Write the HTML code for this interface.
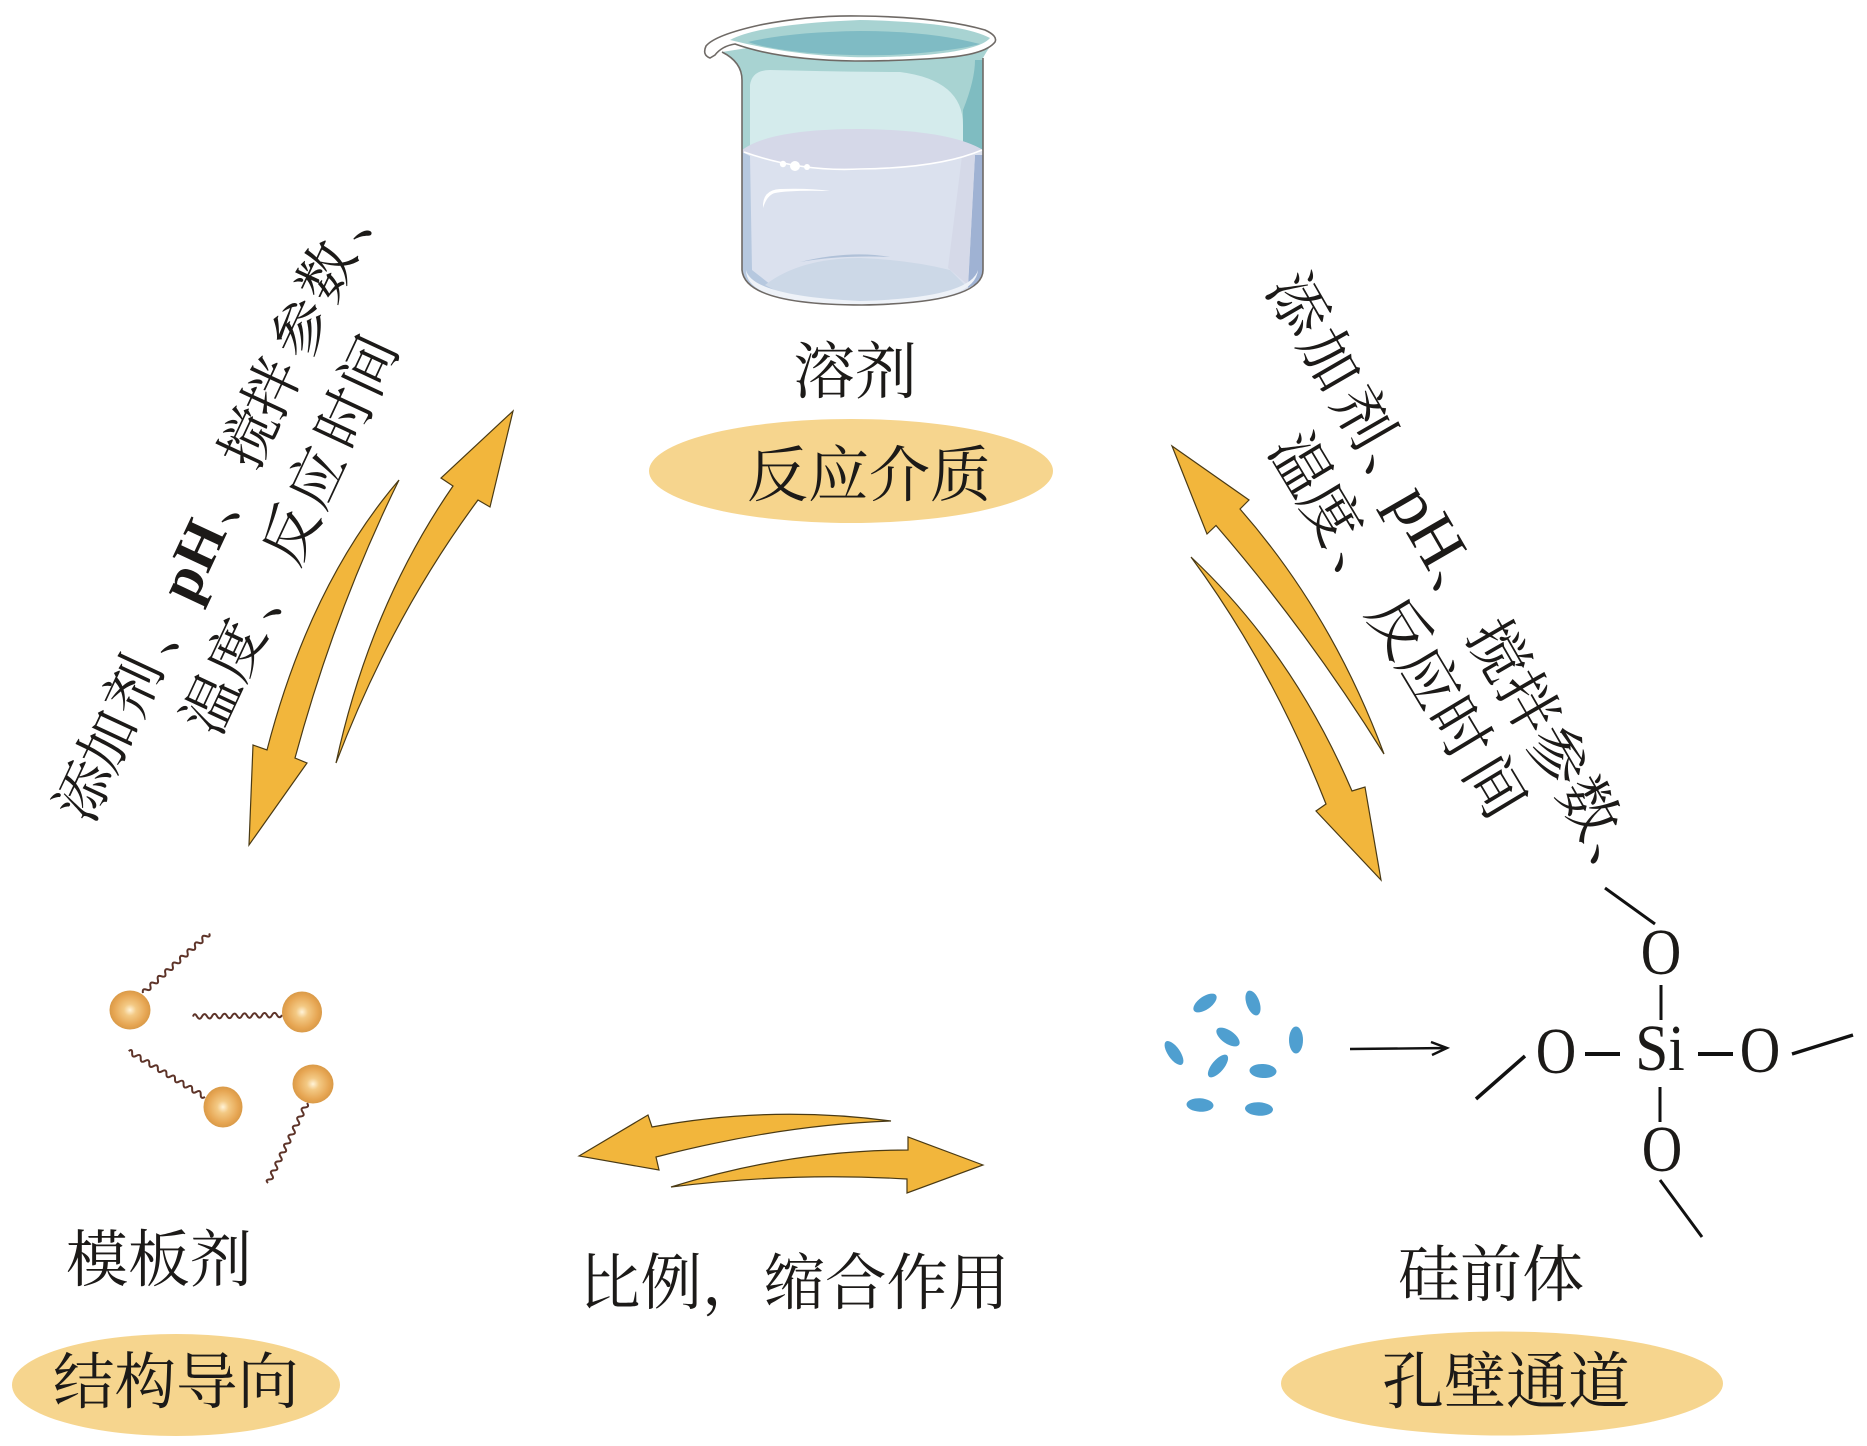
<!DOCTYPE html>
<html lang="zh">
<head>
<meta charset="utf-8">
<style>
html,body{margin:0;padding:0;background:#fff}
svg{display:block}
.c{font-family:"Liberation Serif","Noto Serif CJK SC",serif;fill:#1c1a18}
.f{font-family:"Liberation Serif",serif;fill:#1c1a18;font-size:66px;text-anchor:middle}
.a{fill:#f2b63c;stroke:#4a3a14;stroke-width:1.2;stroke-linejoin:miter}
.b{stroke:#111;fill:none}
</style>
</head>
<body>
<svg xmlns="http://www.w3.org/2000/svg" width="1867" height="1446" viewBox="0 0 1867 1446">
<defs>
<path id="w" d="M0 0q2.5 -4.5 5 0t5 0t5 0t5 0t5 0t5 0t5 0t5 0t5 0t5 0t5 0t5 0t5 0t5 0t5 0t5 0t5 0t4 0" fill="none" stroke="#5d3328" stroke-width="2"/>
<radialGradient id="s" cx="50%" cy="50%" r="50%">
<stop offset="0" stop-color="#fff3d8"/><stop offset=".3" stop-color="#f3c984"/><stop offset=".8" stop-color="#e6a552"/><stop offset="1" stop-color="#d99a48"/>
</radialGradient>
<clipPath id="body"><path d="M722,52 Q742,62 742,80 L742,270 Q745,305 862,305 Q983,303 983,270 L983,58 Q990,45 995,42 L860,30Z"/></clipPath>
</defs>
<rect width="1867" height="1446" fill="#fff"/>

<!-- beaker -->
<g clip-path="url(#body)">
<rect x="700" y="20" width="300" height="300" fill="#a8d3d2"/>
<path d="M975,60H990V150H963V110Q975,80 975,60Z" fill="#7fbcc1"/>
<path d="M750,150V85Q752,70 770,70Q850,72 900,72Q963,80 963,125V150Z" fill="#d4ebec"/>
<path d="M742,150Q770,129 860,129Q950,130 983,150V310H742Z" fill="#d5d8e8"/>
<path d="M742,152Q800,172 860,170Q940,168 983,150V310H742Z" fill="#dbe1ee"/>
<path d="M742,152L750,156L752,270L790,300L742,300Z" fill="#b6c8df"/>
<path d="M975,155H983V280L968,288Z" fill="#9fb2d3"/>
<path d="M962,156L975,155L968,285L948,268Z" fill="#d5d9e8"/>
<path d="M765,285Q800,258 860,258Q910,260 950,270L965,285L945,300Q860,310 790,298Z" fill="#ccd8e7"/>
<path d="M800,262Q850,250 890,257Q840,255 800,262Z" fill="#b0c1d8"/>
<path d="M746,270Q752,296 860,301Q970,298 978,270Q975,305 860,305Q746,305 746,270Z" fill="#eef2f8"/>
</g>
<path d="M744,152Q800,172 860,169Q940,168 982,150" fill="none" stroke="#fff" stroke-width="1.6"/>
<circle cx="795" cy="166" r="5" fill="#fff"/><circle cx="783" cy="164" r="3.2" fill="#fff"/><circle cx="807" cy="167" r="3" fill="#fff"/>
<path d="M763,208Q762,190 780,189Q810,188 830,191Q790,190 775,193Q767,195 763,208Z" fill="#fff"/>
<path d="M722,52 Q742,62 742,80 L742,270 Q745,305 862,305 Q983,303 983,270 L983,58" fill="none" stroke="#6f6a66" stroke-width="1.6"/>
<path d="M710,58Q702,55 706,46Q715,35 760,25Q810,15 860,16Q940,17 985,30Q998,36 995,42Q985,55 940,58Q900,61 855,61Q780,60 735,44Q722,46 715,55Z" fill="#fff" stroke="#6f6a66" stroke-width="1.6"/>
<path d="M730,40Q760,24 860,20Q960,22 990,38Q980,50 925,55Q880,58 850,57Q790,55 730,40Z" fill="#a8d3d2"/>
<path d="M748,42Q790,32 860,31Q930,31 980,44Q950,52 890,55Q840,56 800,52Q765,48 748,42Z" fill="#7fbbc4"/>

<!-- ellipses -->
<ellipse cx="851" cy="471" rx="202" ry="52" fill="#f6d58e"/>
<ellipse cx="176" cy="1385" rx="164" ry="51" fill="#f6d58e"/>
<ellipse cx="1502" cy="1383.5" rx="221" ry="52" fill="#f6d58e"/>

<!-- horizontal labels -->
<text class="c" x="793" y="393" font-size="62">溶剂</text>
<text class="c" x="747" y="496" font-size="61">反应介质</text>
<text class="c" x="66" y="1281" font-size="62">模板剂</text>
<text class="c" x="53" y="1403" font-size="61.5">结构导向</text>
<text class="c" x="579" y="1304" font-size="61.5">比例，缩合作用</text>
<text class="c" x="1398" y="1296" font-size="62">硅前体</text>
<text class="c" x="1382" y="1403" font-size="62">孔壁通道</text>

<!-- rotated labels -->
<text class="c" font-size="58" transform="translate(103,799.3) rotate(-65)" x="-29 26 87 155">添加剂、<tspan font-size="60" font-weight="bold" x="214 248">pH</tspan><tspan x="299 360 415 482 544 611">、搅拌参数、</tspan></text>
<text class="c" font-size="58" transform="translate(230,712) rotate(-65)" x="-29 30 97 158 220 286 344">温度、反应时间</text>
<text class="c" font-size="60" transform="translate(1280,314.5) rotate(60)" x="-30 34 101 165">添加剂、<tspan font-size="68" x="216 250">pH</tspan><tspan x="300 370 430 491 552 615">、搅拌参数、</tspan></text>
<text class="c" font-size="60" transform="translate(1283,475) rotate(59)" x="-30 28 94 160 219 279 346">温度、反应时间</text>

<!-- arrows -->
<path class="a" d="M399,480Q310,584 267,750L253,745L249,845L307,763L295,758Q335,610 399,480Z"/>
<path class="a" d="M336,763Q370,606 453,486L441,478L513,411L490,507L478,500Q392,616 336,763Z"/>
<path class="a" d="M1172,446L1249,500L1240,509Q1332,614 1384,754Q1308,632 1216,525.5L1207,534Z"/>
<path class="a" d="M1191,557Q1293,653 1352,791L1365,787L1381,880L1316,811L1326,804Q1272,667 1191,557Z"/>
<path class="a" d="M579,1156L648,1115L652,1127Q770,1105 891,1121Q780,1125 656,1157L659,1170Z"/>
<path class="a" d="M983,1165L908,1137V1150Q790,1150 671,1187Q790,1172 907,1179V1193Z"/>

<!-- template molecules -->
<use href="#w" transform="translate(143,993) rotate(-42)"/>
<use href="#w" transform="translate(282,1015) rotate(179)"/>
<use href="#w" transform="translate(205,1097) rotate(-149)"/>
<use href="#w" transform="translate(307,1103) rotate(116)"/>
<ellipse cx="130" cy="1010" rx="20.5" ry="19.5" fill="url(#s)"/>
<ellipse cx="302" cy="1012" rx="20" ry="20.5" fill="url(#s)"/>
<ellipse cx="223" cy="1107" rx="19.5" ry="20.5" fill="url(#s)"/>
<ellipse cx="313" cy="1084" rx="20.5" ry="19.5" fill="url(#s)"/>

<!-- precursor particles -->
<g fill="#4f9fd0">
<ellipse cx="1205" cy="1003" rx="13.5" ry="6.5" transform="rotate(-35 1205 1003)"/>
<ellipse cx="1253" cy="1003" rx="13" ry="6.5" transform="rotate(70 1253 1003)"/>
<ellipse cx="1228" cy="1037" rx="13.5" ry="6.5" transform="rotate(35 1228 1037)"/>
<ellipse cx="1296" cy="1040" rx="13.5" ry="7" transform="rotate(90 1296 1040)"/>
<ellipse cx="1174" cy="1053" rx="14" ry="6" transform="rotate(55 1174 1053)"/>
<ellipse cx="1218" cy="1066" rx="14" ry="6" transform="rotate(-50 1218 1066)"/>
<ellipse cx="1263" cy="1071" rx="13.5" ry="7" transform="rotate(3 1263 1071)"/>
<ellipse cx="1200" cy="1105" rx="13.5" ry="6.7" transform="rotate(3 1200 1105)"/>
<ellipse cx="1259" cy="1109" rx="14" ry="6.7" transform="rotate(3 1259 1109)"/>
</g>
<path class="b" stroke-width="2.4" d="M1350,1049L1447,1048M1431,1042L1447,1048L1432,1055"/>

<!-- formula -->
<g class="f">
<text transform="translate(1661,974) scale(.85,1)">O</text>
<text transform="translate(1556,1073) scale(.85,1)">O</text>
<text transform="translate(1660,1070) scale(.9,1)">Si</text>
<text transform="translate(1760,1072) scale(.85,1)">O</text>
<text transform="translate(1662,1171) scale(.85,1)">O</text>
</g>
<g class="b">
<path stroke-width="3" d="M1605,888L1655,924M1661,985V1020M1660,1087V1122M1660,1180L1702,1237"/>
<path stroke-width="4" d="M1585,1054H1620M1698,1054H1733"/>
<path stroke-width="3.5" d="M1792,1054L1853,1035M1525,1056L1476,1099"/>
</g>
</svg>
</body>
</html>
